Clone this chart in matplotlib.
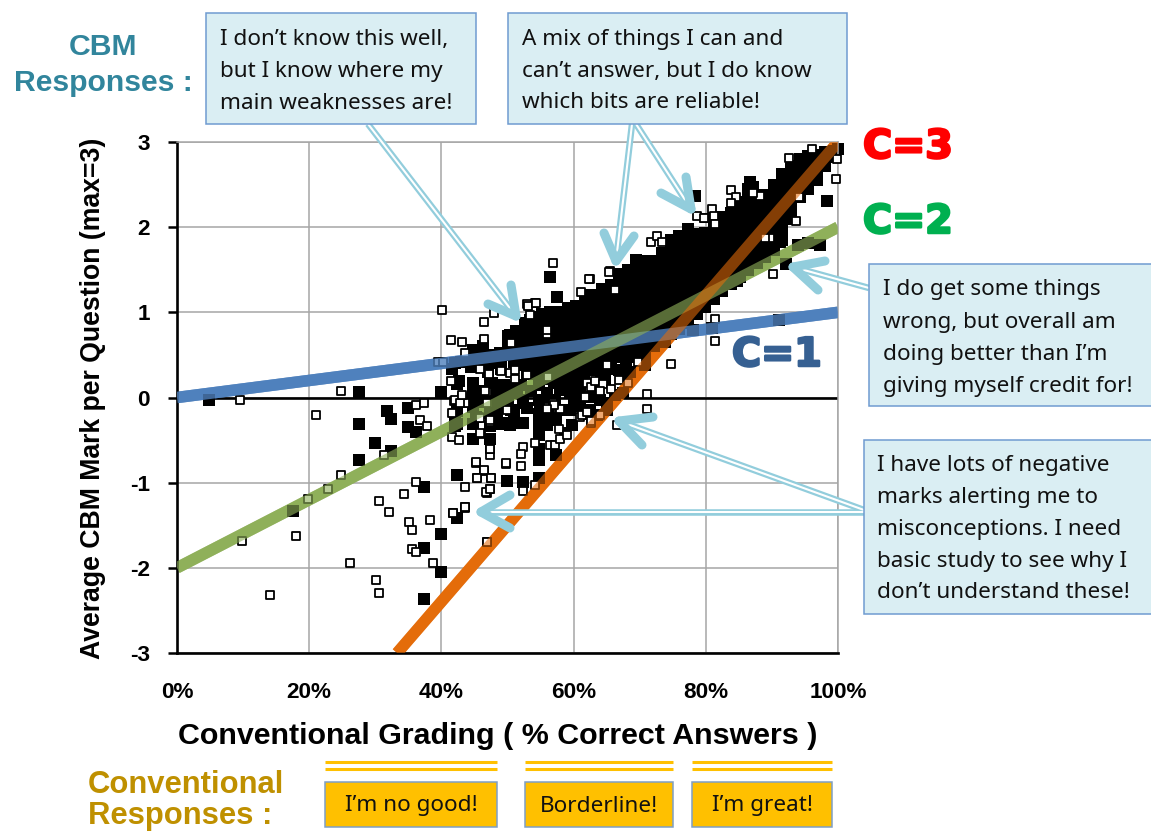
import matplotlib
matplotlib.use("Agg")
import matplotlib.pyplot as plt
from matplotlib.patches import Rectangle
import matplotlib.patheffects as pe

# ---------- data ----------
x_ticks = [0, 20, 40, 60, 80, 100]
x_tick_labels = ["0%", "20%", "40%", "60%", "80%", "100%"]
y_ticks = [-3, -2, -1, 0, 1, 2, 3]

c1_x, c1_y = [0, 100], [0, 1]
c2_x, c2_y = [0, 100], [-2, 2]
c3_x, c3_y = [33.3, 100], [-3, 3]

# dense band of filled markers, column by column
dense_x = [50.0, 51.3, 52.6, 53.9, 55.2, 56.5, 57.8, 59.1, 60.4, 61.7, 63.0, 64.3, 65.6, 66.9, 68.2,
           69.5, 70.8, 72.1, 73.4, 74.7, 76.0, 77.3, 78.6, 79.9, 81.2, 82.5, 83.8, 85.1, 86.4, 87.7,
           89.0, 90.3, 91.6, 92.9, 94.2, 95.5, 96.8, 98.1, 99.4]
dense_y = [
    [.72, .61, .50],
    [.78, .67, .56, .47],
    [.88, .77, .66, .55, .46],
    [.92, .81, .70, .59, .48],
    [.98, .87, .76, .65, .54, .43],
    [1.00, .89, .78, .67, .56, .45],
    [1.00, .89, .78, .67, .56, .45, .36],
    [1.05, .94, .83, .72, .61, .50, .40],
    [1.08, .97, .86, .75, .64, .53, .42],
    [1.15, 1.04, .93, .82, .71, .60, .49, .38],
    [1.20, 1.09, .98, .87, .76, .65, .54, .43],
    [1.27, 1.16, 1.05, .94, .83, .72, .61, .50, .39],
    [1.32, 1.21, 1.10, .99, .88, .77, .66, .55, .44],
    [1.45, 1.34, 1.23, 1.12, 1.01, .90, .79, .68, .57, .48],
    [1.50, 1.39, 1.28, 1.17, 1.06, .95, .84, .73, .62, .51],
    [1.62, 1.51, 1.40, 1.29, 1.18, 1.07, .96, .85, .74, .63, .52],
    [1.60, 1.49, 1.38, 1.27, 1.16, 1.05, .94, .83, .72, .61, .52],
    [1.60, 1.49, 1.38, 1.27, 1.16, 1.05, .94, .83, .72, .60],
    [1.70, 1.59, 1.48, 1.37, 1.26, 1.15, 1.04, .93, .82, .71, .66],
    [1.85, 1.74, 1.63, 1.52, 1.41, 1.30, 1.19, 1.08, .97, .86, .75],
    [1.90, 1.79, 1.68, 1.57, 1.46, 1.35, 1.24, 1.13, 1.02, .91, .80],
    [1.98, 1.87, 1.76, 1.65, 1.54, 1.43, 1.32, 1.21, 1.10, .99, .88],
    [1.92, 1.81, 1.70, 1.59, 1.48, 1.37, 1.26, 1.15, 1.04, .98],
    [1.93, 1.82, 1.71, 1.60, 1.49, 1.38, 1.27, 1.16, 1.06],
    [2.10, 1.99, 1.88, 1.77, 1.66, 1.55, 1.44, 1.33, 1.22, 1.16],
    [2.12, 2.01, 1.90, 1.79, 1.68, 1.57, 1.46, 1.35, 1.25],
    [2.17, 2.06, 1.95, 1.84, 1.73, 1.62, 1.51, 1.40, 1.33],
    [2.30, 2.19, 2.08, 1.97, 1.86, 1.75, 1.64, 1.53, 1.42],
    [2.45, 2.34, 2.23, 2.12, 2.01, 1.90, 1.79, 1.68, 1.57, 1.50],
    [2.35, 2.24, 2.13, 2.02, 1.91, 1.80, 1.69, 1.58],
    [2.38, 2.27, 2.16, 2.05, 1.94, 1.83, 1.72, 1.65],
    [2.50, 2.39, 2.28, 2.17, 2.06, 1.95, 1.84, 1.73],
    [2.62, 2.51, 2.40, 2.29, 2.18, 2.07, 1.96, 1.85],
    [2.72, 2.61, 2.50, 2.39, 2.28, 2.17, 2.10],
    [2.80, 2.69, 2.58, 2.47, 2.36],
    [2.84, 2.73, 2.62, 2.51, 2.45],
    [2.85, 2.74, 2.63, 2.55],
    [2.88, 2.77, 2.72],
    [2.90, 2.82],
]

# individually readable filled markers
filled_x = [4.9, 27.5, 39.9, 34.9, 31.7, 32.4, 27.5, 34.9, 36.1, 29.9, 32.4, 27.5, 17.5, 37.4, 42.4, 39.9,
            42.4, 37.4, 39.9, 37.4, 49.9, 42.4, 42.4, 44.8, 44.8, 47.4, 49.1, 47.4, 44.8, 47.4, 42.3,
            42.6, 41.6, 44.8, 46.3, 43.8, 44.8, 44.8, 47.6, 47.6, 47.1, 50.4, 51.9, 53.4, 50.4, 48.9, 52.9,
            55.4, 56.9, 53.4, 54.9, 56.4, 54.4, 52.9, 54.7, 54.7, 54.7, 54.7,
            50.6, 48.4, 45.3, 42.0, 42.0, 47.3, 50.4, 52.4, 49.9, 44.8, 57.2, 57.2, 57.0, 57.0,
            49.9, 52.4, 54.8, 54.8, 54.8, 57.4, 54.8, 54.8, 52.4, 50.6, 49.1, 57.4, 59.7, 58.7, 52.4, 54.9,
            60.0, 59.5, 59.5, 62.5, 65.0, 65.0, 64.0, 58.0, 60.5, 58.0, 60.2, 61.5, 58.3, 63.5, 66.2, 67.5,
            67.5, 68.5, 66.8, 56.5, 57.8, 59.0, 60.3, 61.6, 62.9, 64.2, 65.5, 59.3, 64.7, 62.8,
            69.8, 68.3, 68.0, 70.8, 73.8, 77.1, 78.6, 81.2, 84.7, 78.0, 81.0, 91.1, 56.4, 57.5, 62.4,
            78.3, 98.4, 92.1, 97.3, 95.5, 94.0, 91.2, 100.0, 86.7, 87.2,
            42.0, 43.0, 44.3, 45.5, 47.0, 48.0, 49.0, 46.0, 44.5, 47.5, 49.0, 51.0, 52.0, 53.0, 54.0, 55.0,
            49.5, 50.5, 52.0, 53.5, 55.5, 56.0, 56.0, 55.9, 48.8, 50.0, 51.5, 53.0, 51.0, 46.0, 43.5, 46.0,
            48.5, 56.0, 58.5, 61.0, 61.0, 63.0, 58.8, 60.0]
filled_y = [-.03, .07, .07, -.12, -.16, -.25, -.31, -.35, -.41, -.54, -.63, -.73, -1.33, -1.05, -.91, -1.60,
            -1.42, -1.77, -2.05, -2.37, -.98, -.16, -.31, -.31, -.49, -.49, -.31, -.18, -.04, .16, .16,
            .19, .33, .56, .60, .48, .17, .05, .17, .05, .30, .73, .67, .64, .56, .52, .56,
            .75, .79, .91, .95, .91, .28, .28, .15, -.03, -.19, -.30,
            -.15, -.19, -.23, -.19, -.33, -.34, -.32, -.03, .01, -.11, -.19, -.03, .17, .32,
            -.98, -.99, -.94, -.73, -.60, -.67, -.44, -.32, -.30, -.30, -.30, -.26, -.32, -.42, -.07, -.13,
            -.03, -.15, .05, -.15, -.15, -.07, -.03, .09, .05, .20, .17, .24, .09, -.20, .03, .05,
            .25, .30, .32, .30, .30, .30, .30, .28, .32, .30, .33, .18, .22, .01,
            .54, .48, .36, .38, .65, .94, 1.06, 1.18, 1.37, .79, .82, .91, 1.42, 1.18, 1.20,
            2.37, 2.31, 1.57, 1.79, 1.81, 1.79, 1.83, 2.92, 2.53, 2.47,
            .40, .42, .45, .47, .50, .45, .42, .38, .36, .40, .33, .42, .38, .36, .33, .35,
            .15, .12, .15, .08, .22, .05, -.05, -.20, .05, -.05, .05, -.12, -.20, .08, -.05, -.05,
            -.08, -.32, -.15, -.10, .10, .12, .20, .28]

hollow_x = [9.5, 24.8, 21.0, 31.3, 24.8, 22.9, 19.8, 9.8, 18.0, 14.1, 26.2, 30.1, 30.6, 30.6, 32.0, 34.3, 36.2,
            35.1, 35.5, 35.5, 36.2, 38.3, 38.7, 41.8, 43.5, 43.5, 46.9, 47.4, 47.5, 45.4, 46.5, 45.3, 47.4,
            47.4, 49.8, 46.9, 41.6, 42.7, 46.0, 47.4, 45.6, 41.6, 36.7, 37.8, 36.2, 37.4, 41.9, 43.1, 43.5,
            46.9, 46.9, 40.1, 46.5, 48.0, 41.5, 43.1, 46.5, 41.5, 39.5, 40.3, 43.6, 45.8, 47.2, 49.0, 50.4,
            51.1, 51.1, 52.9, 46.6, 42.0, 42.8, 43.1, 45.7, 47.4, 49.9, 52.9, 54.2, 56.0, 56.0, 50.6, 53.4,
            57.7, 56.2, 56.2, 69.8, 74.7, 71.1, 71.1, 66.5, 62.7, 64.0, 65.0, 68.3, 66.8, 61.5, 61.0, 58.0,
            62.0, 62.6, 63.3, 64.5, 65.7, 64.0, 61.7, 56.9, 45.8, 45.8, 47.4, 45.3, 46.4, 45.4, 47.5, 43.6,
            49.8, 52.1, 52.4, 52.1, 54.2, 56.4, 57.2, 58.0, 57.8, 59.0, 52.4, 54.1, 46.8, 47.4, 43.6, 41.8,
            46.9, 61.2, 62.0, 62.7, 58.0, 57.0, 56.0, 49.9, 96.1, 92.6, 99.7, 83.8, 84.6, 83.8, 88.2, 87.1,
            81.0, 81.2, 79.7, 93.6, 90.2, 89.7, 89.0, 94.1, 99.8, 65.5, 62.5, 71.7, 72.6, 73.3, 78.7, 79.8,
            81.4, 66.3, 56.9, 62.4, 61.1, 65.4, 53.1, 54.3, 81.4, 81.4]
hollow_y = [-.03, .08, -.21, -.68, -.91, -1.07, -1.19, -1.68, -1.63, -2.32, -1.94, -2.14, -2.30, -1.22, -1.34, -1.13, -.99,
            -1.46, -1.56, -1.78, -1.81, -1.44, -1.94, -1.36, -1.30, -1.05, -1.12, -1.08, -.95, -.94, -.86, -.77, -.67,
            -.60, -.78, -1.70, -.46, -.50, -.43, -.29, -.24, -.18, -.26, -.33, -.09, -.07, -.04, .01, -.07,
            .06, -.06, 1.03, .89, .99, .68, .65, .69, .19, .42, .42, .52, .34, .28, .31, .29,
            .32, .22, .26, .08, -.03, -.07, .03, -.23, -.27, -.13, 1.10, 1.11, .74, .79, .64, .97,
            -.13, -.11, .24, .42, .39, .04, -.13, -.32, -.30, -.21, .38, .17, .20, -.21, -.23, -.13,
            .17, .12, .19, .16, .10, .08, .01, -.07, -.42, -.24, -.60, -.76, -.85, -.94, -.95, -1.29,
            -.77, -.80, -.58, -.66, -.53, -.56, -.56, -.49, -.37, -.44, -1.10, -1.03, -1.11, -1.08, -1.29, -1.36,
            -1.70, -.20, -.17, -.28, -.13, -.09, -.13, -.15, 2.92, 2.81, 2.56, 2.44, 2.36, 2.28, 2.37, 2.40,
            2.21, 2.13, 2.11, 2.07, 1.45, 1.87, 1.87, 2.36, 2.80, 1.48, 1.39, 1.82, 1.90, 1.82, 2.13, 2.11,
            2.04, 1.26, 1.58, 1.39, 1.24, 1.47, 1.08, 1.11, .92, .66]

box_lines_1 = ["I don\u2019t know this well,", "but I know where my", "main weaknesses are!"]
box_lines_2 = ["A mix of things I can and", "can\u2019t answer, but I do know", "which bits are reliable!"]
box_lines_3 = ["I do get some things", "wrong, but overall am", "doing better than I\u2019m", "giving myself credit for!"]
box_lines_4 = ["I have lots of negative", "marks alerting me to", "misconceptions. I need", "basic study to see why I", "don\u2019t understand these!"]
verdicts = ["I\u2019m no good!", "Borderline!", "I\u2019m great!"]

# ---------- figure ----------
W, H = 1151, 833
fig = plt.figure(figsize=(W / 100, H / 100), dpi=100, facecolor="white")
ax = fig.add_axes([177 / W, 1 - 653 / H, (838 - 177) / W, (653 - 142) / H])
ax.set_xlim(0, 100)
ax.set_ylim(-3, 3)
BOLD = "Liberation Sans"
GRID = "#a6a6a6"

ax.set_xticks(x_ticks)
ax.set_xticklabels(x_tick_labels, fontfamily=BOLD, fontweight="bold", fontsize=16.2)
ax.set_yticks(y_ticks)
ax.set_yticklabels([str(v) for v in y_ticks], fontfamily=BOLD, fontweight="bold", fontsize=16.2)
ax.tick_params(axis="x", length=0, pad=21)
ax.tick_params(axis="y", length=6.5, width=1.8, pad=13, color="black")
ax.set_xticks([0], minor=True)
ax.tick_params(axis="x", which="minor", length=5, width=1.8, color="black")
ax.grid(True, color=GRID, lw=1.1)
ax.set_axisbelow(True)
for side in ("top", "right"):
    ax.spines[side].set_color(GRID)
    ax.spines[side].set_linewidth(1.1)
for side in ("left", "bottom"):
    ax.spines[side].set_color("black")
    ax.spines[side].set_linewidth(1.9)
ax.axhline(0, color="black", lw=1.9, zorder=1.5)

LINE_W = 8.3
series = [(c1_x, c1_y, "#4f81bd", .80), (c2_x, c2_y, "#8fb05a", .62), (c3_x, c3_y, "#e46c0a", .58)]
# opaque underlay keeps the full colour on white; the translucent copy tints the markers it crosses
for i, (xs, ys, col, alpha) in enumerate(series):
    ax.plot(xs, ys, color=col, lw=LINE_W, zorder=1.7 + i * .01, solid_capstyle="butt")

for xv, ys in zip(dense_x, dense_y):
    ax.scatter([xv] * len(ys), ys, s=70, marker="s", c="black", linewidths=0, zorder=2)
ax.scatter(filled_x, filled_y, s=70, marker="s", c="black", linewidths=0, zorder=2, clip_on=False)
ax.scatter(hollow_x, hollow_y, s=30, marker="s", facecolors="white", edgecolors="black",
           linewidths=1.3, zorder=3, clip_on=False)

for i, (xs, ys, col, alpha) in enumerate(series):
    ax.plot(xs, ys, color=col, lw=LINE_W, alpha=alpha, zorder=4 + i * .01, solid_capstyle="butt")

# ---------- annotation layer in picture pixels ----------
ov = fig.add_axes([0, 0, 1, 1], facecolor="none", zorder=10)
ov.set_xlim(0, W)
ov.set_ylim(H, 0)
ov.axis("off")
ARROW = "#92cddc"

def arrow(start, tip, barb1, barb2):
    ov.plot([start[0], tip[0]], [start[1], tip[1]], color=ARROW, lw=4.7, solid_capstyle="butt", zorder=1)
    ov.plot([start[0], tip[0]], [start[1], tip[1]], color="white", lw=1.5, solid_capstyle="butt", zorder=1.1)
    for b in (barb1, barb2):
        ov.plot([tip[0], b[0]], [tip[1], b[1]], color=ARROW, lw=6.5, solid_capstyle="round", zorder=1.2)

arrow((368, 124), (516, 316), (488, 304), (511, 285))
arrow((632, 124), (616, 261), (604, 233), (634, 236))
arrow((636, 124), (691, 209), (661, 193), (686, 177))
arrow((869, 288), (793, 267), (825, 261), (818, 290))
arrow((864, 510), (619, 421), (653, 417), (642, 445))
arrow((864, 512), (481, 512), (510, 495), (510, 528))

def box(x0, y0, x1, y1, fc, ec):
    ov.add_patch(Rectangle((x0, y0), x1 - x0, y1 - y0, fc=fc, ec=ec, lw=1.1, zorder=2, clip_on=False))

BODY = "Noto Sans"
def lines(x, ys, texts):
    for y, t in zip(ys, texts):
        ov.text(x, y + 2, t, fontsize=16.2, family=BODY, color="#111111", va="center", ha="left", zorder=3)

box(206, 13, 476, 124, "#daeef3", "#6f9bd1")
lines(220, [37, 69, 101], box_lines_1)
box(508, 13, 847, 124, "#daeef3", "#6f9bd1")
lines(522, [37, 69, 100], box_lines_2)
box(869, 264, 1152, 406, "#daeef3", "#6f9bd1")
lines(883, [288, 320, 352, 384], box_lines_3)
box(864, 440, 1152, 614, "#daeef3", "#6f9bd1")
lines(877, [463, 495, 527, 559, 590], box_lines_4)

for (x0, x1), t in zip([(325, 497), (525, 673), (692, 832)], verdicts):
    box(x0, 782, x1, 827, "#ffc000", "#7f9fc6")
    ov.text((x0 + x1) / 2, 806, t, fontsize=16.2, family=BODY, color="#111111", ha="center", va="center", zorder=3)
    for y in (762, 769):
        ov.plot([x0, x1], [y, y], color="#ffc000", lw=2.2, solid_capstyle="butt")

ov.text(103, 47, "CBM", color="#31859c", fontsize=21.7, family=BOLD, weight="bold", ha="center", va="center")
ov.text(103, 83, "Responses :", color="#31859c", fontsize=21.7, family=BOLD, weight="bold", ha="center", va="center")
ov.text(88, 785, "Conventional", color="#bf9000", fontsize=22.3, family=BOLD, weight="bold", ha="left", va="center")
ov.text(88, 816, "Responses :", color="#bf9000", fontsize=22.3, family=BOLD, weight="bold", ha="left", va="center")
ov.text(498, 736, "Conventional Grading ( % Correct Answers )", fontsize=21.9, family=BOLD, weight="bold",
        ha="center", va="center", color="black")
ov.text(93, 398, "Average CBM Mark per Question (max=3)", fontsize=19.2, family=BOLD, weight="bold",
        rotation=90, ha="center", va="center", color="black")

for x, y, t, col in [(908, 147, "C=3", "#ff0000"), (908, 222, "C=2", "#00b050"), (777, 355, "C=1", "#366092")]:
    ov.text(x, y, t, color=col, fontsize=28.5, family="DejaVu Sans", weight="bold", ha="center", va="center",
            path_effects=[pe.withStroke(linewidth=1.8, foreground=col)])

fig.savefig("out.png", dpi=100)
